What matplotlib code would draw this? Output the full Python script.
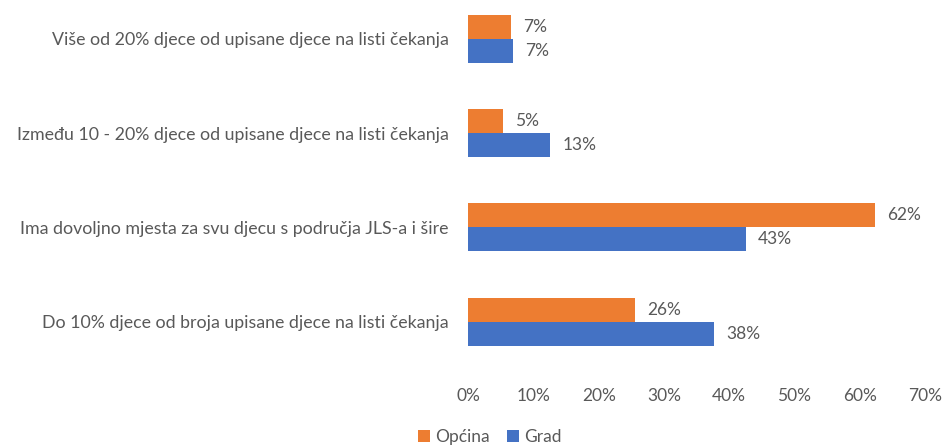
import numpy as np
import matplotlib.pyplot as plt
from matplotlib.ticker import FuncFormatter

plt.rcParams['font.family'] = ['Lato', 'DejaVu Sans']

# Categories bottom to top (as drawn on the y axis)
categories = [
    "Do 10% djece od broja upisane djece na listi čekanja",
    "Ima dovoljno mjesta za svu djecu s područja JLS-a i šire",
    "Između 10 - 20% djece od upisane djece na listi čekanja",
    "Više od 20% djece od upisane djece na listi čekanja",
]
opcina = [25.6, 62.4, 5.4, 6.6]
grad = [37.7, 42.6, 12.6, 6.9]

orange = '#ED7D31'
blue = '#4472C4'
grey = '#595959'

fig = plt.figure(figsize=(9.42, 4.45), dpi=100)
ax = fig.add_axes([0.497, 0.171, 0.485, 0.829])

y = np.arange(len(categories))
h = 0.255
b1 = ax.barh(y + h / 2, opcina, height=h, color=orange, label='Općina')
b2 = ax.barh(y - h / 2, grad, height=h, color=blue, label='Grad')

for bars, vals in ((b1, opcina), (b2, grad)):
    for bar, v in zip(bars, vals):
        ax.text(v + 1.8, bar.get_y() + bar.get_height() / 2, f"{round(v):.0f}%",
                va='center', ha='left', fontsize=12.5, color=grey)

ax.set_xlim(0, 70)
ax.set_ylim(-0.5, 3.41)
ax.set_xticks(np.arange(0, 71, 10))
ax.xaxis.set_major_formatter(FuncFormatter(lambda v, p: f"{v:.0f}%"))
ax.set_yticks(y)
ax.set_yticklabels(categories)
ax.tick_params(axis='both', length=0, labelsize=12.5, colors=grey)
ax.tick_params(axis='x', pad=14)
ax.tick_params(axis='y', pad=14, labelsize=12.8)
for s in ax.spines.values():
    s.set_visible(False)

fig.legend(handles=[b1, b2], loc='lower center', bbox_to_anchor=(0.52, -0.035),
           ncol=2, frameon=False, fontsize=12.5, labelcolor=grey,
           handlelength=0.7, handleheight=0.7, handletextpad=0.3, columnspacing=1.0)

fig.savefig('out.png', dpi=100)
